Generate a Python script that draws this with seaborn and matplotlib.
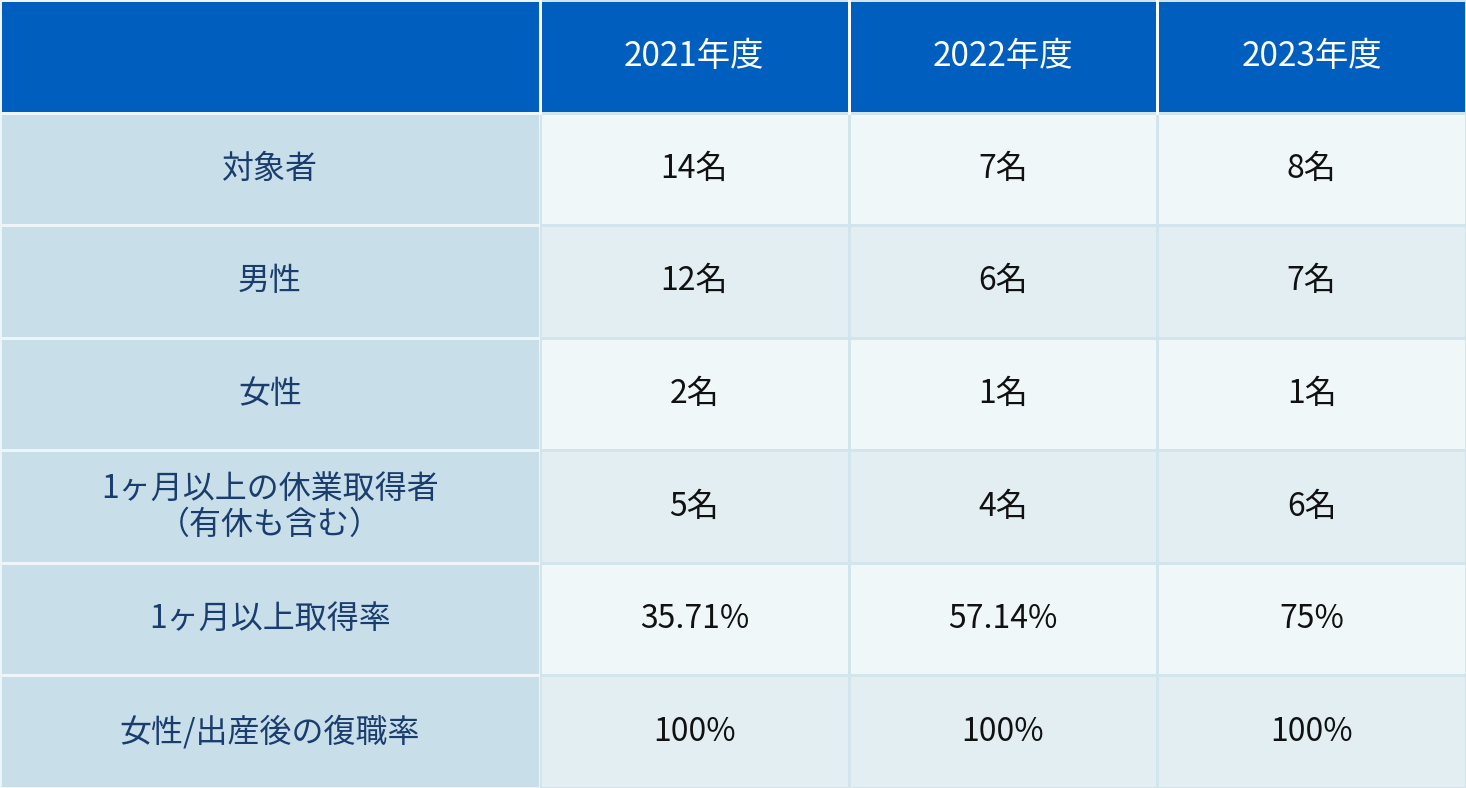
import matplotlib
matplotlib.use("Agg")
import matplotlib.pyplot as plt
import seaborn as sns
import numpy as np
from matplotlib.colors import ListedColormap

plt.rcParams["font.family"] = "Noto Sans CJK JP"

years = ["2021年度", "2022年度", "2023年度"]
row_labels = ["対象者", "男性", "女性", "1ヶ月以上の休業取得者\n（有休も含む）", "1ヶ月以上取得率", "女性/出産後の復職率"]
v2021 = ["14名", "12名", "2名", "5名", "35.71%", "100%"]
v2022 = ["7名", "6名", "1名", "4名", "57.14%", "100%"]
v2023 = ["8名", "7名", "1名", "6名", "75%", "100%"]

W, H = 1466, 788
fig = plt.figure(figsize=(W/100, H/100), dpi=100)
fig.patch.set_facecolor("white")

nrows = len(row_labels) + 1
axL = fig.add_axes([0, 0, 540/W, 1])
left_codes = np.array([[0]] + [[1]] * len(row_labels))
left_text = np.array([[""]] + [[r] for r in row_labels], dtype=object)
sns.heatmap(left_codes, ax=axL, cmap=ListedColormap(["#005EBF", "#C8DFEA"]), vmin=0, vmax=1,
            cbar=False, annot=left_text, fmt="", linewidths=2, linecolor="#EEF5F8",
            annot_kws={"fontsize": 23, "color": "#1B3D6E", "linespacing": 1.15},
            xticklabels=False, yticklabels=False)

axR = fig.add_axes([540/W, 0, 926/W, 1])
codes = np.zeros((nrows, 3))
for i in range(1, nrows):
    codes[i, :] = 1 if i % 2 == 1 else 2
texts = np.array([years] + [list(t) for t in zip(v2021, v2022, v2023)], dtype=object)
sns.heatmap(codes, ax=axR, cmap=ListedColormap(["#005EBF", "#F0F7F8", "#E2EEF2"]), vmin=0, vmax=2,
            cbar=False, annot=texts, fmt="", linewidths=2, linecolor="#D3E5EC",
            annot_kws={"fontsize": 23, "color": "#111111"},
            xticklabels=False, yticklabels=False)
for t in axR.texts[:3]:
    t.set_color("white")
    t.set_fontsize(24)
for x in [1, 2]:
    axR.plot([x, x], [0, 1], color="white", lw=2)
axR.plot([0, 0], [0, 1], color="white", lw=2)

fig.savefig("out.png", dpi=100)
